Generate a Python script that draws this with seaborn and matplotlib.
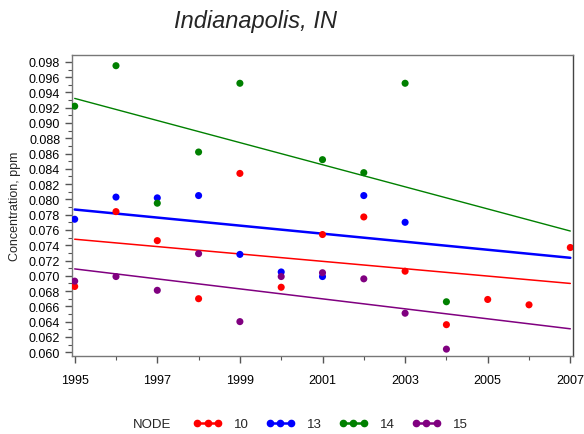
import pandas as pd
import numpy as np
import matplotlib
matplotlib.use("Agg")
import matplotlib.pyplot as plt
import seaborn as sns
from matplotlib.ticker import MultipleLocator, FormatStrFormatter
from matplotlib.lines import Line2D

# ozone concentrations per monitor node
years_10 = [1995, 1996, 1997, 1998, 1999, 2000, 2001, 2002, 2003, 2004, 2005, 2006, 2007]
conc_10 = [0.0686, 0.0784, 0.0746, 0.0670, 0.0834, 0.0685, 0.0754, 0.0777, 0.0706, 0.0636, 0.0669, 0.0662, 0.0737]

years_13 = [1995, 1996, 1997, 1998, 1999, 2000, 2001, 2002, 2003]
conc_13 = [0.0774, 0.0803, 0.0802, 0.0805, 0.0728, 0.0705, 0.0699, 0.0805, 0.0770]

years_14 = [1995, 1996, 1997, 1998, 1999, 2001, 2002, 2003, 2004]
conc_14 = [0.0922, 0.0975, 0.0795, 0.0862, 0.0952, 0.0852, 0.0835, 0.0952, 0.0666]

years_15 = [1995, 1996, 1997, 1998, 1999, 2000, 2001, 2002, 2003, 2004]
conc_15 = [0.0693, 0.0699, 0.0681, 0.0729, 0.0640, 0.0699, 0.0704, 0.0696, 0.0651, 0.0604]

nodes = ["10", "13", "14", "15"]
year_ticks = [1995, 1997, 1999, 2001, 2003, 2005, 2007]
colors = {"10": "#FF0000", "13": "#0000FF", "14": "#008000", "15": "#800080"}
line_w = {"10": 1.1, "13": 1.8, "14": 1.0, "15": 1.1}

frames = []
for n, yrs, cc in [("10", years_10, conc_10), ("13", years_13, conc_13),
                   ("14", years_14, conc_14), ("15", years_15, conc_15)]:
    frames.append(pd.DataFrame({"year": yrs, "conc": cc, "node": n}))
df = pd.concat(frames, ignore_index=True)

sns.set_style("white")
plt.rcParams["font.family"] = ["Liberation Sans", "DejaVu Sans"]

fig = plt.figure(figsize=(5.84, 4.35), dpi=100)
ax = fig.add_axes([72 / 584, 1 - 357 / 435, 501 / 584, 301 / 435])

# regression lines span the full year range
ax.set_xlim(1995, 2007)
for n in nodes:
    sub = df[df["node"] == n]
    sns.regplot(data=sub, x="year", y="conc", ax=ax, scatter=False, ci=None,
                truncate=False, color=colors[n], line_kws={"linewidth": line_w[n]})

sns.scatterplot(data=df, x="year", y="conc", hue="node", palette=colors,
                s=26, edgecolor="none", legend=False, ax=ax, zorder=3)

ax.set_xlim(1994.935, 2007.065)
ax.set_ylim(0.0595, 0.0989)
ax.set_xlabel("")
ax.set_ylabel("")

ax.set_xticks(year_ticks)
ax.set_xticklabels([str(y) for y in year_ticks])
ax.xaxis.set_minor_locator(MultipleLocator(1))
ax.yaxis.set_major_locator(MultipleLocator(0.002))
ax.yaxis.set_minor_locator(MultipleLocator(0.001))
ax.yaxis.set_major_formatter(FormatStrFormatter("%.3f"))

ax.tick_params(which="both", direction="out", colors="#555555", labelcolor="black")
ax.tick_params(which="major", length=5, width=1, labelsize=9)
ax.tick_params(which="minor", length=3, width=0.8)
ax.tick_params(axis="x", which="major", pad=8)
ax.tick_params(left=True, bottom=True, which="both")

for side in ["top", "right", "left", "bottom"]:
    ax.spines[side].set_visible(True)
    ax.spines[side].set_color("#777777")
    ax.spines[side].set_linewidth(1)
ax.spines["right"].set_color("#444444")

fig.text(255 / 584, 1 - 28 / 435, "Indianapolis, IN", fontsize=17, style="italic",
         ha="center", va="baseline")
fig.text(15 / 584, 0.526, "Concentration, ppm", rotation=90, fontsize=9,
         ha="center", va="center")

# legend along the bottom
fig.text(133 / 584, 1 - 425 / 435, "NODE", fontsize=9.5, ha="left", va="center")
handles = [Line2D([0], [0], color=colors[n], marker="o", markersize=4.5,
                  linewidth=1.8) for n in nodes]
fig.legend(handles, nodes, loc="center left", bbox_to_anchor=(193 / 584, 1 - 425 / 435),
           ncol=4, frameon=False, fontsize=9.5, numpoints=3, handlelength=2.2,
           handletextpad=0.9, columnspacing=1.3, borderpad=0, borderaxespad=0)

fig.savefig("out.png", dpi=100)
